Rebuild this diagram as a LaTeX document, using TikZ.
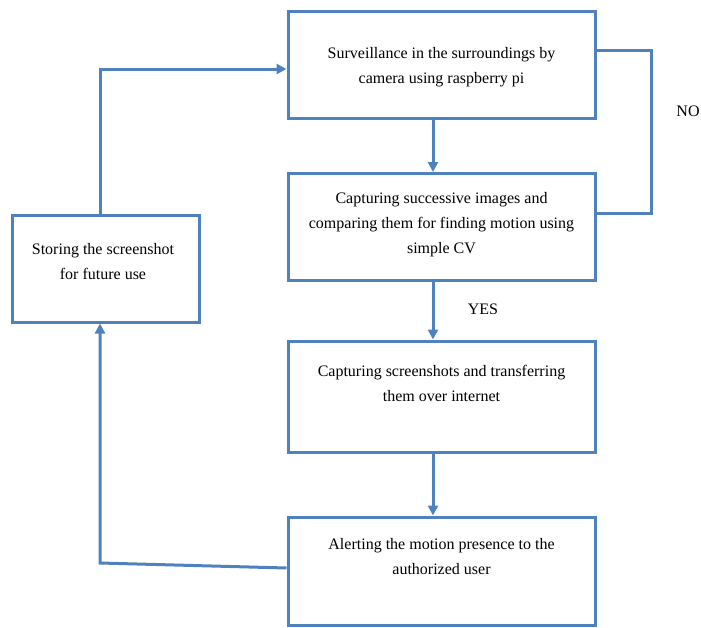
\documentclass[tikz,border=0pt]{standalone}
\usepackage{fontspec}
\setmainfont{Liberation Serif}
\usetikzlibrary{arrows.meta}
\definecolor{flowblue}{HTML}{4F81BD}
\begin{document}
\begin{tikzpicture}[x=1pt,y=-1pt,
 box/.style={draw=flowblue, line width=3pt, minimum width=307pt, minimum height=107pt, inner sep=0pt},
 lbox/.style={box, minimum width=187pt},
 txt/.style={font=\fontsize{16pt}{25pt}\selectfont, align=center, inner sep=0pt},
 conn/.style={draw=flowblue, line width=3pt},
 arr/.style={conn, -{Triangle[length=10pt,width=10pt]}}]
\useasboundingbox (0,0) rectangle (701,627);
\node[box] (b1) at (441.5,64.5) {};
\node[box] (b2) at (441.5,227) {};
\node[box, minimum height=111pt] (b3) at (441.5,396.5) {};
\node[box, minimum height=108pt] (b4) at (441.5,571) {};
\node[lbox] (ls) at (105.5,268.5) {};
\node[txt] (t1) at (441.5,67) {Surveillance in the surroundings by\\camera using raspberry pi};
\node[txt] (t2) at (441.5,225) {Capturing successive images and\\comparing them for finding motion using\\simple CV};
\node[txt] (t3) at (441.5,383.5) {Capturing screenshots and transferring\\them over internet};
\node[txt] (t4) at (441.5,556.5) {Alerting the motion presence to the\\authorized user};
\node[txt] (tl) at (103,262) {Storing the screenshot\\for future use};
\node[txt] (yes) at (483,309) {YES};
\node[txt] (no) at (688,111) {NO};
\coordinate (ax) at (433,0);
\coordinate (lx) at (100,0);
\coordinate (nx) at (651,0);
\coordinate (ny1) at (0,50);
\coordinate (ny2) at (0,213);
\coordinate (ty) at (0,69);
\coordinate (by1) at (0,568);
\coordinate (bc) at (100,563);
\draw[arr] (b1.south -| ax) -- (b2.north -| ax);
\draw[arr] (b2.south -| ax) -- (b3.north -| ax);
\draw[arr] (b3.south -| ax) -- (b4.north -| ax);
\draw[conn] (b2.east |- ny2) -- (nx |- ny2) -- (nx |- ny1) -- (b1.east |- ny1);
\draw[arr] (ls.north -| lx) |- (b1.west |- ty);
\draw[arr] (b4.west |- by1) -- (bc) -- (ls.south -| lx);
\end{tikzpicture}
\end{document}
